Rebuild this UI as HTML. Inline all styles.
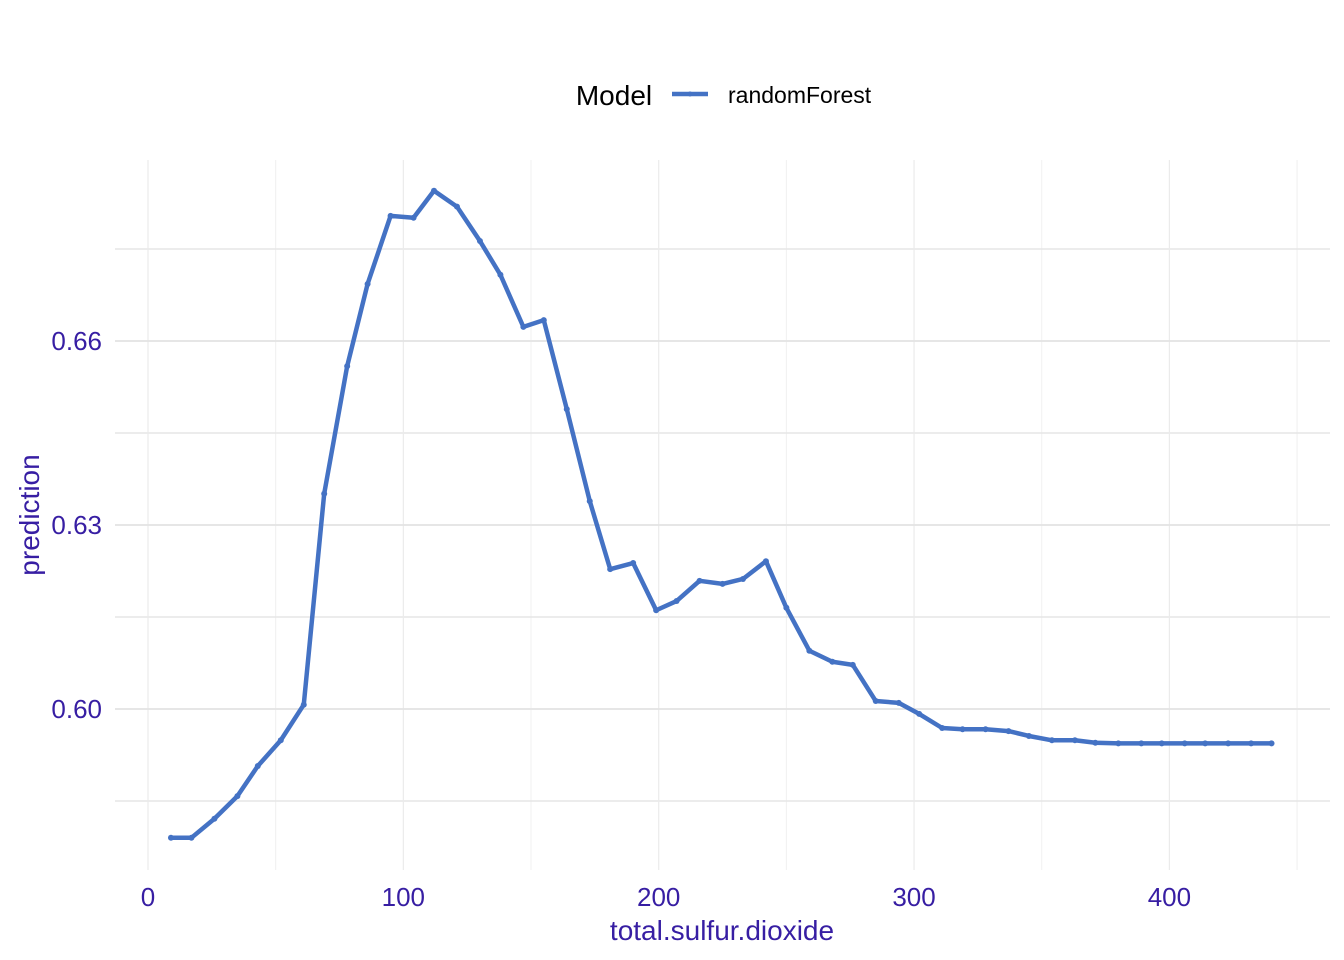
<!DOCTYPE html>
<html><head><meta charset="utf-8"><style>
body{margin:0;background:#fff;}
svg{display:block;font-family:"Liberation Sans",Arial,sans-serif;}
</style></head><body>
<svg id="chart" width="1344" height="960">
<g id="grid"></g>
<g id="axes"></g>
<g id="series"></g>
<text x="614" y="105" font-size="28" text-anchor="middle" fill="#000">Model</text>
<line x1="672" y1="94" x2="708" y2="94" stroke="#4472c4" stroke-width="4.5"/>
<circle cx="690" cy="94" r="2.5" fill="#4472c4"/>
<text x="728" y="103" font-size="23" fill="#000">randomForest</text>
<text x="722" y="940" font-size="28" text-anchor="middle" fill="#371ea3">total.sulfur.dioxide</text>
<text transform="translate(39,515) rotate(-90)" font-size="28" text-anchor="middle" fill="#371ea3">prediction</text>
</svg>
<script>
const xVals=[9,17,26,35,43,52,61,69,78,86,95,104,112,121,130,138,147,155,164,173,181,190,199,207,216,225,233,242,250,259,268,276,285,294,302,311,319,328,337,345,354,363,371,380,389,397,406,414,423,432,440];
const yVals=[0.5790,0.5790,0.5821,0.5858,0.5907,0.5949,0.6007,0.6351,0.6559,0.6693,0.6804,0.6801,0.6845,0.6819,0.6763,0.6708,0.6623,0.6634,0.6489,0.6339,0.6228,0.6238,0.6161,0.6176,0.6209,0.6204,0.6212,0.6241,0.6165,0.6095,0.6077,0.6072,0.6013,0.6010,0.5992,0.5969,0.5967,0.5967,0.5964,0.5956,0.5949,0.5949,0.5945,0.5944,0.5944,0.5944,0.5944,0.5944,0.5944,0.5944,0.5944];
const xTicks=[0,100,200,300,400];
const yTicks=[0.60,0.63,0.66];
const xMinor=[50,150,250,350,450];
const yMinor=[0.585,0.615,0.645,0.675];
const NS="http://www.w3.org/2000/svg";
const sx=v=>148+v*2.5535;
const sy=v=>709-(v-0.60)*6133.3;
const L=115,R=1330,T=160,B=870;
const grid=document.getElementById('grid'),axes=document.getElementById('axes'),ser=document.getElementById('series');
function ln(p,x1,y1,x2,y2,c,w){const l=document.createElementNS(NS,'line');l.setAttribute('x1',x1);l.setAttribute('y1',y1);l.setAttribute('x2',x2);l.setAttribute('y2',y2);l.setAttribute('stroke',c);l.setAttribute('stroke-width',w);p.appendChild(l);return l;}
function tx(p,x,y,s,a){const t=document.createElementNS(NS,'text');t.setAttribute('x',x);t.setAttribute('y',y);t.setAttribute('font-size',26);t.setAttribute('fill','#371ea3');t.setAttribute('text-anchor',a);t.textContent=s;p.appendChild(t);return t;}
xMinor.forEach(v=>{const l=ln(grid,sx(v),T,sx(v),B,'#f0f0f0',1);

});
yMinor.forEach(v=>{const l=ln(grid,L,sy(v),R,sy(v),'#e6e6e6',1.6);

});
xTicks.forEach(v=>{const l=ln(grid,sx(v),T,sx(v),B,'#ebebeb',1.2);


const t=tx(axes,sx(v),906,String(v),'middle');

});
yTicks.forEach(v=>{const l=ln(grid,L,sy(v),R,sy(v),'#e3e3e3',1.8);


const t=tx(axes,102,sy(v)+9,v.toFixed(2),'end');

});
const pl=document.createElementNS(NS,'polyline');
pl.setAttribute('points',xVals.map((x,i)=>sx(x)+','+sy(yVals[i])).join(' '));
pl.setAttribute('fill','none');pl.setAttribute('stroke','#4472c4');pl.setAttribute('stroke-width',4.5);pl.setAttribute('stroke-linejoin','round');


ser.appendChild(pl);
xVals.forEach((x,i)=>{const c=document.createElementNS(NS,'circle');c.setAttribute('cx',sx(x));c.setAttribute('cy',sy(yVals[i]));c.setAttribute('r',3);c.setAttribute('fill','#4472c4');


ser.appendChild(c);});
</script>
</body></html>
